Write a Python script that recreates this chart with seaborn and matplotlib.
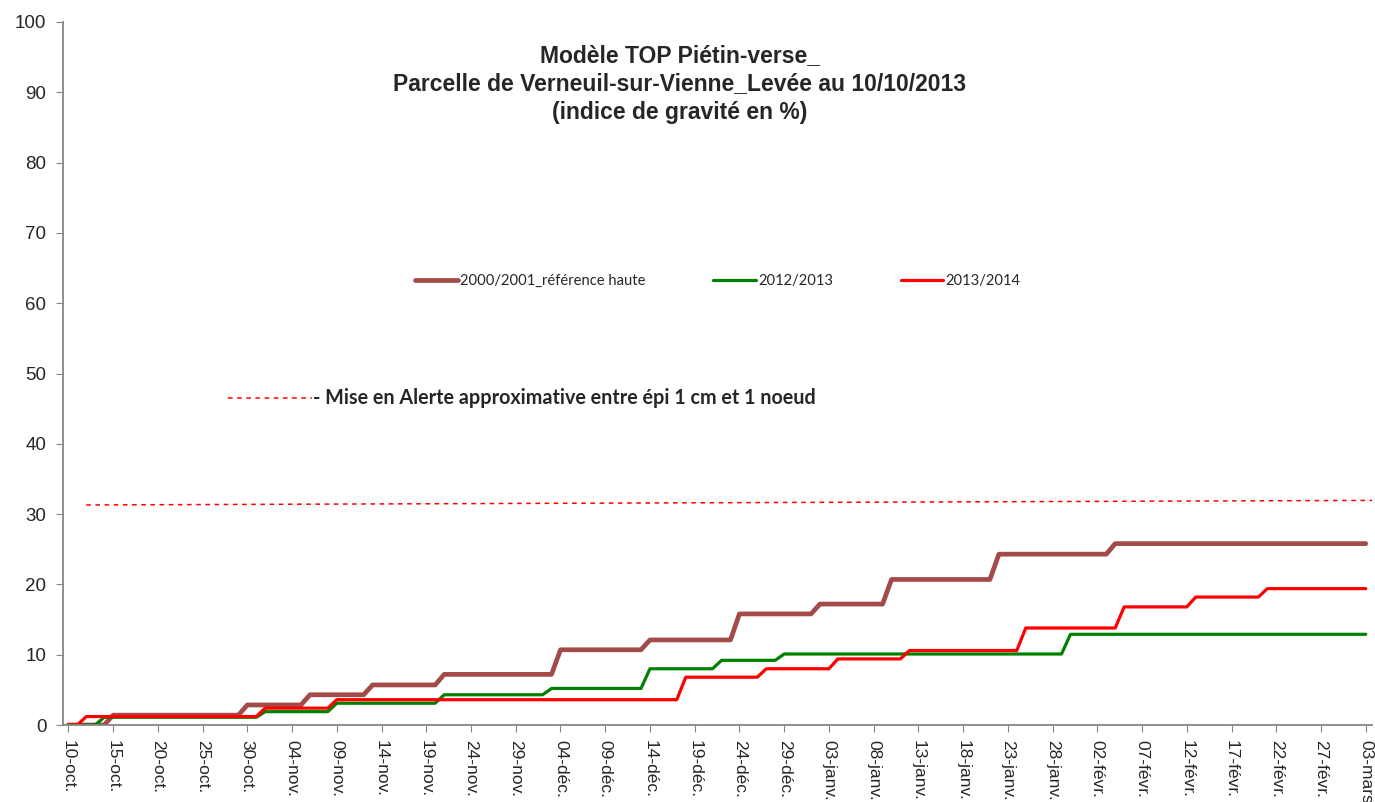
import pandas as pd
import matplotlib.pyplot as plt
import seaborn as sns

# day index 0 = 10 oct. ; vertices of each stepped curve (day, value in %)
ref_days = [0, 4, 5, 19, 20, 26, 27, 33, 34, 41, 42, 54, 55, 64, 65, 74, 75,
            83, 84, 91, 92, 103, 104, 116, 117, 145]
ref_vals = [0, 0, 1.4, 1.4, 2.85, 2.85, 4.3, 4.3, 5.7, 5.7, 7.2, 7.2, 10.7, 10.7,
            12.1, 12.1, 15.8, 15.8, 17.2, 17.2, 20.7, 20.7, 24.3, 24.3, 25.8, 25.8]

s1213_days = [0, 3, 4, 21, 22, 29, 30, 41, 42, 53, 54, 64, 65, 72, 73, 79, 80,
              111, 112, 145]
s1213_vals = [0, 0, 1.1, 1.1, 1.9, 1.9, 3.1, 3.1, 4.3, 4.3, 5.2, 5.2, 8.0, 8.0,
              9.2, 9.2, 10.1, 10.1, 12.9, 12.9]

s1314_days = [0, 1, 2, 21, 22, 29, 30, 68, 69, 77, 78, 85, 86, 93, 94, 106, 107,
              117, 118, 125, 126, 133, 134, 145]
s1314_vals = [0, 0, 1.2, 1.2, 2.4, 2.4, 3.6, 3.6, 6.8, 6.8, 8.0, 8.0, 9.4, 9.4,
              10.6, 10.6, 13.8, 13.8, 16.8, 16.8, 18.2, 18.2, 19.4, 19.4]

# alert threshold line (approx.)
alert_days = [2, 146]
alert_vals = [31.3, 31.95]

tick_days = list(range(0, 146, 5))
tick_labels = ["10-oct.", "15-oct.", "20-oct.", "25-oct.", "30-oct.",
               "04-nov.", "09-nov.", "14-nov.", "19-nov.", "24-nov.", "29-nov.",
               "04-déc.", "09-déc.", "14-déc.", "19-déc.", "24-déc.", "29-déc.",
               "03-janv.", "08-janv.", "13-janv.", "18-janv.", "23-janv.", "28-janv.",
               "02-févr.", "07-févr.", "12-févr.", "17-févr.", "22-févr.", "27-févr.",
               "03-mars"]

series = [
    ("2000/2001_référence haute", ref_days, ref_vals, "#A24B49", 3.4),
    ("2012/2013", s1213_days, s1213_vals, "#008000", 2.3),
    ("2013/2014", s1314_days, s1314_vals, "#FF0000", 2.3),
]

sns.set_style("ticks")
plt.rcParams['font.family'] = ['Liberation Sans', 'DejaVu Sans']

fig = plt.figure(figsize=(13.75, 8.02), dpi=100)
ax = fig.add_axes([63 / 1375, 1 - 725 / 802, (1372 - 63) / 1375, (725 - 22) / 802])

for name, d, v, col, lw in series:
    df = pd.DataFrame({"day": d, "val": v})
    sns.lineplot(data=df, x="day", y="val", ax=ax, color=col, linewidth=lw,
                 label=name, sort=False, estimator=None)

sns.lineplot(x=alert_days, y=alert_vals, ax=ax, color="#FF0000", linewidth=1.1,
             linestyle=(0, (3, 3)), estimator=None)

ax.set_xlim(-0.6, 145.7)
ax.set_ylim(0, 100)
ax.set_yticks(range(0, 101, 10))
ax.set_xticks(tick_days)
ax.set_xticklabels(tick_labels, rotation=270, fontsize=12.5)
ax.tick_params(axis="y", labelsize=13.5, length=5, color="#868686", pad=7)
ax.tick_params(axis="x", length=5, color="#868686", pad=6)
ax.set_xlabel("")
ax.set_ylabel("")
sns.despine(ax=ax)
for sp in ["left", "bottom"]:
    ax.spines[sp].set_color("#868686")
    ax.spines[sp].set_linewidth(1.3)

handles, labels = ax.get_legend_handles_labels()
ax.legend(handles[:3], labels[:3], ncol=3, frameon=False,
          loc="center left", bbox_to_anchor=(415 / 1375, 1 - 281 / 802),
          bbox_transform=fig.transFigure, borderpad=0, borderaxespad=0,
          handlelength=2.9, handletextpad=0.15, columnspacing=4.6,
          prop={"family": "Lato", "size": 10.6})

fig.text(680 / 1375, 1 - 84 / 802,
         "Modèle TOP Piétin-verse_\nParcelle de Verneuil-sur-Vienne_Levée au 10/10/2013\n(indice de gravité en %)",
         ha="center", va="center", fontsize=16.5, fontweight="bold", linespacing=1.3)

fig.lines.append(plt.Line2D([228 / 1375, 312 / 1375], [1 - 398 / 802, 1 - 398 / 802],
                            transform=fig.transFigure, color="#FF0000",
                            linewidth=1.1, linestyle=(0, (3, 3))))
fig.text(313 / 1375, 1 - 398 / 802,
         "- Mise en Alerte approximative entre épi 1 cm et 1 noeud",
         ha="left", va="center", fontsize=14.2, fontweight="bold", family="Lato")

fig.savefig("out.png", dpi=100)
